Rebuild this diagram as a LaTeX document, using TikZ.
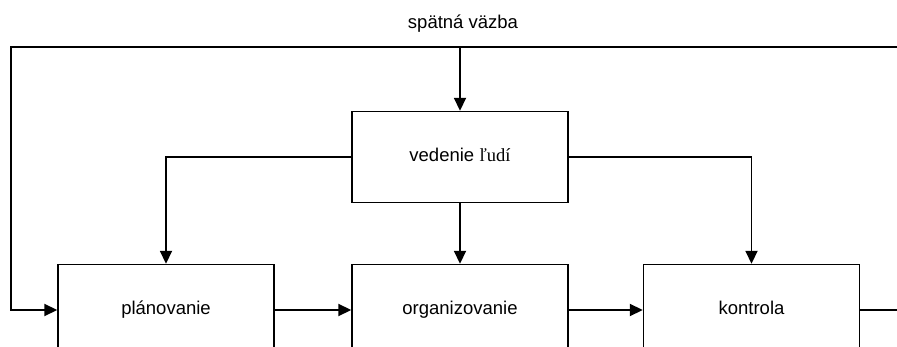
\documentclass[tikz,border=0pt]{standalone}
\usepackage{fontspec}
\setmainfont{Liberation Sans}
\newfontfamily\serifpart{Liberation Serif}
\usetikzlibrary{arrows.meta}
\begin{document}
\begin{tikzpicture}[x=1pt,y=-1pt,
  font=\fontsize{18.5}{22}\selectfont,
  block/.style={draw, line width=1.4pt, minimum width=216pt, minimum height=91pt,
                inner sep=0pt, text height=13pt, text depth=4pt, anchor=center},
  flow/.style={line width=1.8pt, -{Triangle[length=13pt,width=12pt]}},
  plain/.style={line width=1.5pt}]
  \useasboundingbox (0,0) rectangle (897,347);

  % feedback label
  \node (fb) at (463,24) {spätná väzba};

  % blocks
  \node[block] (ved) at (460,157) {vedenie {\serifpart ľudí}};
  \node[block] (plan) at (166,310) {plánovanie};
  \node[block] (org) at (460,310) {organizovanie};
  \node[block] (kon) at (751.5,310) {kontrola};

  % feedback loop corners and open ends
  \coordinate (fbL) at (11,47);
  \coordinate (fbR) at (897,47);
  \coordinate (out) at (897,310);

  % feedback loop
  \draw[flow] (fbR) -- (fbL) |- (plan.west);
  \draw[flow] (fbL -| ved.north) -- (ved.north);

  % leadership to the three functions
  \draw[flow] (ved.west) -| (plan.north);
  \draw[flow] (ved.south) -- (org.north);
  \draw[flow] (ved.east) -| (kon.north);

  % process chain
  \draw[flow] (plan.east) -- (org.west);
  \draw[flow] (org.east) -- (kon.west);
  \draw[plain] (kon.east) -- (out);
\end{tikzpicture}
\end{document}
